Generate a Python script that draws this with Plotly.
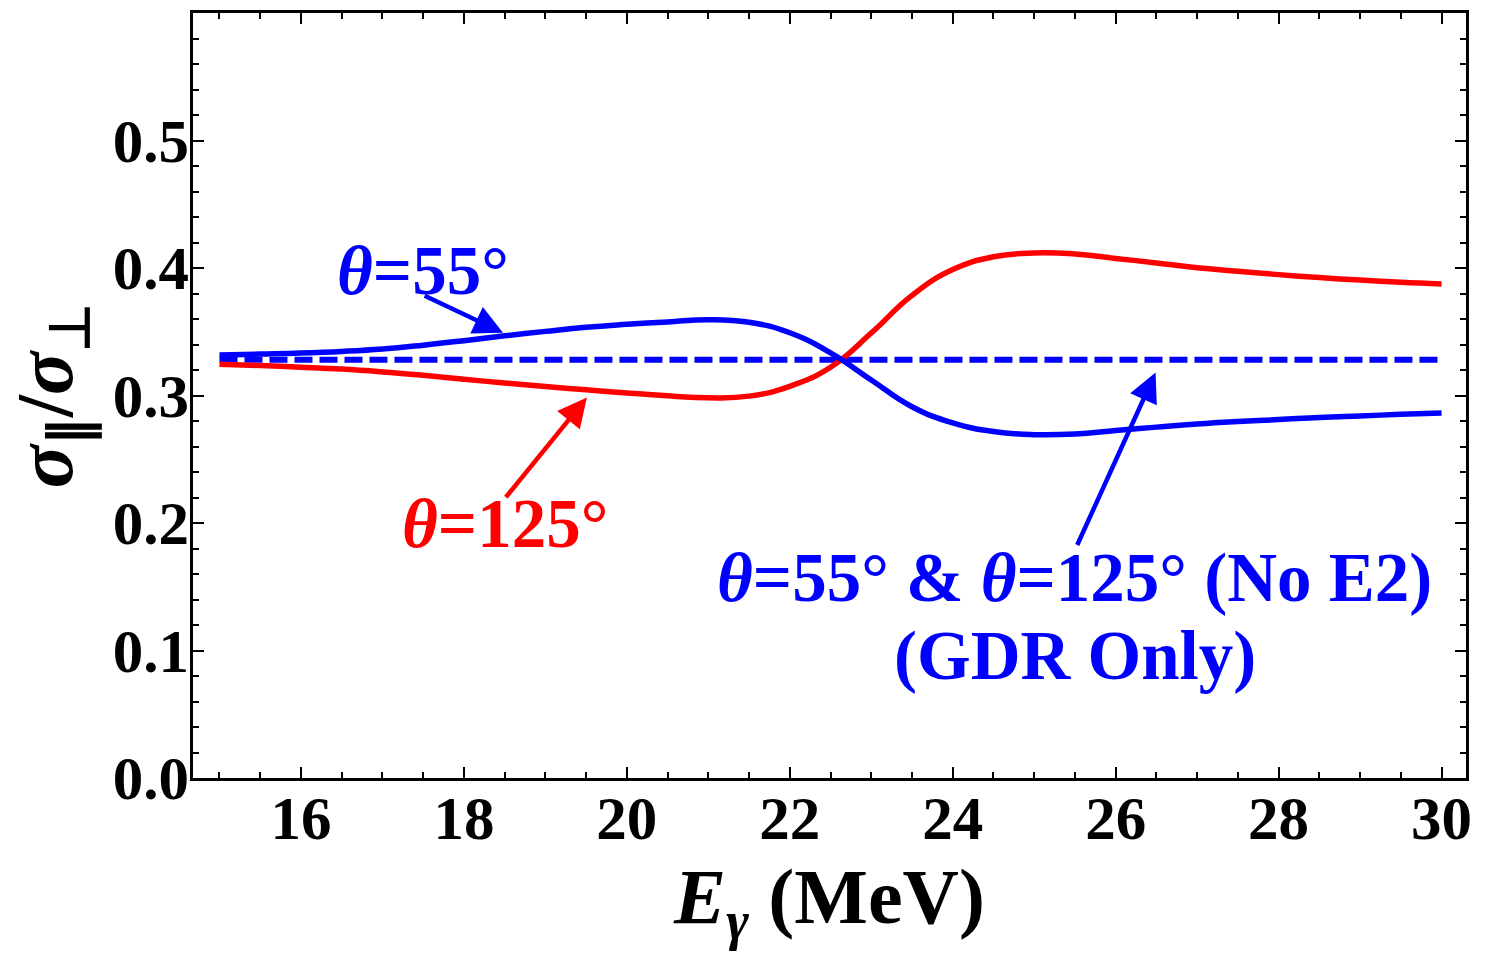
import plotly.graph_objects as go

# Photon energy (MeV) sample points
energy = [15.0, 15.5, 16.0, 16.5, 17.0, 17.5, 18.0, 18.5, 19.0, 19.5, 20.0,
          20.5, 21.0, 21.5, 22.0, 22.5, 23.0, 23.5, 24.0, 24.5, 25.0,
          25.5, 26.0, 26.5, 27.0, 27.5, 28.0, 28.5, 29.0, 29.5, 30.0]

ratio_55 = [0.3318, 0.3325, 0.3333, 0.3346, 0.3365, 0.3395, 0.3430, 0.3468, 0.3503, 0.3535, 0.3558,
            0.3577, 0.3595, 0.3575, 0.3492, 0.3335, 0.3122, 0.2912, 0.2785, 0.2717, 0.2693,
            0.2698, 0.2725, 0.2752, 0.2777, 0.2796, 0.2811, 0.2828, 0.2840, 0.2852, 0.2863]

ratio_125 = [0.3245, 0.3235, 0.3222, 0.3207, 0.3185, 0.3158, 0.3128, 0.3098, 0.3070, 0.3045, 0.3020,
             0.2998, 0.2982, 0.2995, 0.3072, 0.3222, 0.3490, 0.3785, 0.3988, 0.4088, 0.4118,
             0.4110, 0.4075, 0.4040, 0.4002, 0.3975, 0.3948, 0.3925, 0.3905, 0.3888, 0.3875]

e_gdr = [15.0, 30.0]
ratio_gdr = [0.328, 0.328]

x_ticks = [16, 18, 20, 22, 24, 26, 28, 30]
y_ticks = [0.0, 0.1, 0.2, 0.3, 0.4, 0.5]
y_tick_labels = ["0.0", "0.1", "0.2", "0.3", "0.4", "0.5"]

BLUE = "#0000ff"
RED = "#ff0000"
FONT = "Liberation Serif"

fig = go.Figure()
fig.add_trace(go.Scatter(x=e_gdr, y=ratio_gdr, mode="lines",
                         line=dict(color=BLUE, width=6, dash="18px,7px"),
                         showlegend=False))
fig.add_trace(go.Scatter(x=energy, y=ratio_125, mode="lines",
                         line=dict(color=RED, width=5.5, shape="spline", smoothing=1.3),
                         showlegend=False))
fig.add_trace(go.Scatter(x=energy, y=ratio_55, mode="lines",
                         line=dict(color=BLUE, width=5.5, shape="spline", smoothing=1.3),
                         showlegend=False))

ann_font = dict(family=FONT, size=69, weight="bold")
annotations = [
    dict(x=17.50, y=0.3975, text="<i>θ</i>=55°", font=dict(color=BLUE, **ann_font)),
    dict(x=18.50, y=0.1995, text="<i>θ</i>=125°", font=dict(color=RED, **ann_font)),
    dict(x=25.50, y=0.1567, text="<i>θ</i>=55° & <i>θ</i>=125° (No E2)",
         font=dict(color=BLUE, **ann_font)),
    dict(x=25.50, y=0.0959, text="(GDR Only)", font=dict(color=BLUE, **ann_font)),
]
for a in annotations:
    a.update(xref="x", yref="y", showarrow=False, xanchor="center", yanchor="middle")

arrows = [
    (18.48, 0.3492, 17.50, 0.3788, BLUE),
    (19.51, 0.2985, 18.50, 0.2190, RED),
    (26.49, 0.3180, 25.52, 0.1816, BLUE),
]
for tx, ty, sx, sy, c in arrows:
    annotations.append(dict(x=tx, y=ty, ax=sx, ay=sy, xref="x", yref="y",
                            axref="x", ayref="y", text="", showarrow=True,
                            arrowhead=2, arrowsize=1.3, arrowwidth=4.5, arrowcolor=c,
                            standoff=0, startstandoff=0))

axis_common = dict(
    showgrid=False, zeroline=False, showline=True, linecolor="black", linewidth=2.5,
    mirror="allticks", ticks="inside", ticklen=11, tickwidth=2, tickcolor="black",
    tickfont=dict(family=FONT, size=61, color="black", weight="bold"),
)

fig.update_layout(
    width=1492, height=960,
    margin=dict(l=193, r=26, t=10, b=182),
    paper_bgcolor="white", plot_bgcolor="white",
    annotations=annotations,
    xaxis=dict(range=[14.675, 30.30], tickvals=x_ticks, ticklabelstandoff=-15,
               minor=dict(dtick=0.5, ticks="inside", ticklen=6, tickwidth=1.5,
                          tickcolor="black", showgrid=False),
               title=dict(text="<i>E</i><sub><i>γ</i></sub> (MeV)",
                          font=dict(family=FONT, size=78, color="black", weight="bold"),
                          standoff=18),
               **axis_common),
    yaxis=dict(range=[0, 0.6], tickvals=y_ticks, ticktext=y_tick_labels, ticklabelstandoff=-11,
               minor=dict(dtick=0.02, ticks="inside", ticklen=6, tickwidth=1.5,
                          tickcolor="black", showgrid=False),
               title=dict(text="<i>σ</i><sub>∥</sub>/<i>σ</i><sub>⊥</sub>",
                          font=dict(family=FONT, size=80, color="black", weight="bold"),
                          standoff=14),
               **axis_common),
)

fig.write_html("out.html")
